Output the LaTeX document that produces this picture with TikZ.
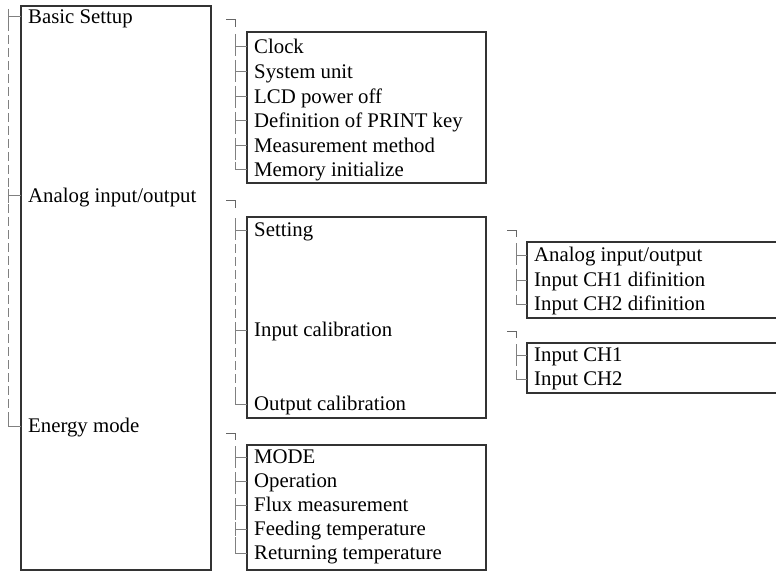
\documentclass[tikz,border=0pt]{standalone}
\usepackage{fontspec}
\setmainfont{Liberation Serif}
\tikzset{
  frame/.style={line width=1.5pt, black!80},
  item/.style={anchor=west, inner xsep=7pt, inner ysep=0pt, text height=13.8pt, text depth=0pt,
    font=\fontsize{20.8}{25}\selectfont},
  trunk/.style={black!50, line width=1pt, dash pattern=on 9pt off 4pt},
  tick/.style={black!50, line width=1pt},
  hook/.style={black!60, line width=1pt},
}
% small corner above a sub-list
\newcommand{\hookmark}[1]{%
  \draw[hook] ([xshift=-9pt]#1) -- (#1) -- ([yshift=-7pt]#1);
}
\newcommand{\midtick}[2]{%
  \path (#2.west -| #1) coordinate (t);
  \draw[tick] ([yshift=7pt]t) -- ([yshift=-7pt]t);
  \draw[tick] (t) -- (#2.west);
}
\newcommand{\lasttick}[2]{%
  \path (#2.west -| #1) coordinate (t);
  \draw[tick] ([yshift=8pt]t) -- (t) -- (#2.west);
}

\begin{document}
\begin{tikzpicture}[x=1pt,y=-1pt]
  \useasboundingbox (0,0) rectangle (776,572);

  % main menu
  \draw[frame] (21,6) rectangle (211,570);
  \node[item] (basic)  at (21,17)  {Basic Settup};
  \node[item] (analog) at (21,196) {Analog input/output};
  \node[item] (energy) at (21,426) {Energy mode};
  \coordinate (mainroot) at (8,9);
  \draw[trunk] (mainroot) -- (energy.west -| mainroot);
  \midtick{mainroot}{basic}
  \midtick{mainroot}{analog}
  \lasttick{mainroot}{energy}

  % basic settup
  \draw[frame] (247,32) rectangle (486,183);
  \node[item] (clock)      at (247,47)    {Clock};
  \node[item] (sysunit)    at (247,71.6)  {System unit};
  \node[item] (lcd)        at (247,96.2)  {LCD power off};
  \node[item] (printkey)   at (247,120.8) {Definition of PRINT key};
  \node[item] (measmethod) at (247,145.4) {Measurement method};
  \node[item] (meminit)    at (247,170)   {Memory initialize};
  \coordinate (basichook) at (235,20);
  \coordinate (basicroot) at (235,34);
  \hookmark{basichook}
  \draw[trunk] (basicroot) -- (meminit.west -| basicroot);
  \foreach \n in {clock,sysunit,lcd,printkey,measmethod} {\midtick{basicroot}{\n}}
  \lasttick{basicroot}{meminit}

  % analog input/output
  \draw[frame] (247,217) rectangle (486,418);
  \node[item] (setting) at (247,230) {Setting};
  \node[item] (incal)   at (247,330) {Input calibration};
  \node[item] (outcal)  at (247,404) {Output calibration};
  \coordinate (analoghook) at (235,201);
  \coordinate (analogroot) at (235,218);
  \hookmark{analoghook}
  \draw[trunk] (analogroot) -- (outcal.west -| analogroot);
  \midtick{analogroot}{setting}
  \midtick{analogroot}{incal}
  \lasttick{analogroot}{outcal}

  % setting
  \draw[frame] (777,242) -- (527,242) -- (527,318) -- (777,318);
  \node[item] (aio)    at (527,255) {Analog input/output};
  \node[item] (ch1def) at (527,280) {Input CH1 difinition};
  \node[item] (ch2def) at (527,304) {Input CH2 difinition};
  \coordinate (settinghook) at (516,230);
  \coordinate (settingroot) at (516,243);
  \hookmark{settinghook}
  \draw[trunk] (settingroot) -- (ch2def.west -| settingroot);
  \midtick{settingroot}{aio}
  \midtick{settingroot}{ch1def}
  \lasttick{settingroot}{ch2def}

  % input calibration
  \draw[frame] (777,343) -- (527,343) -- (527,393) -- (777,393);
  \node[item] (inch1) at (527,355) {Input CH1};
  \node[item] (inch2) at (527,379) {Input CH2};
  \coordinate (incalhook) at (516,331);
  \coordinate (incalroot) at (516,344);
  \hookmark{incalhook}
  \draw[trunk] (incalroot) -- (inch2.west -| incalroot);
  \midtick{incalroot}{inch1}
  \lasttick{incalroot}{inch2}

  % energy mode
  \draw[frame] (247,445) rectangle (486,570);
  \node[item] (mode)      at (247,457) {MODE};
  \node[item] (operation) at (247,481) {Operation};
  \node[item] (flux)      at (247,505) {Flux measurement};
  \node[item] (feeding)   at (247,529) {Feeding temperature};
  \node[item] (returning) at (247,553) {Returning temperature};
  \coordinate (energyhook) at (235,433);
  \coordinate (energyroot) at (235,446);
  \hookmark{energyhook}
  \draw[trunk] (energyroot) -- (returning.west -| energyroot);
  \foreach \n in {mode,operation,flux,feeding} {\midtick{energyroot}{\n}}
  \lasttick{energyroot}{returning}
\end{tikzpicture}
\end{document}
